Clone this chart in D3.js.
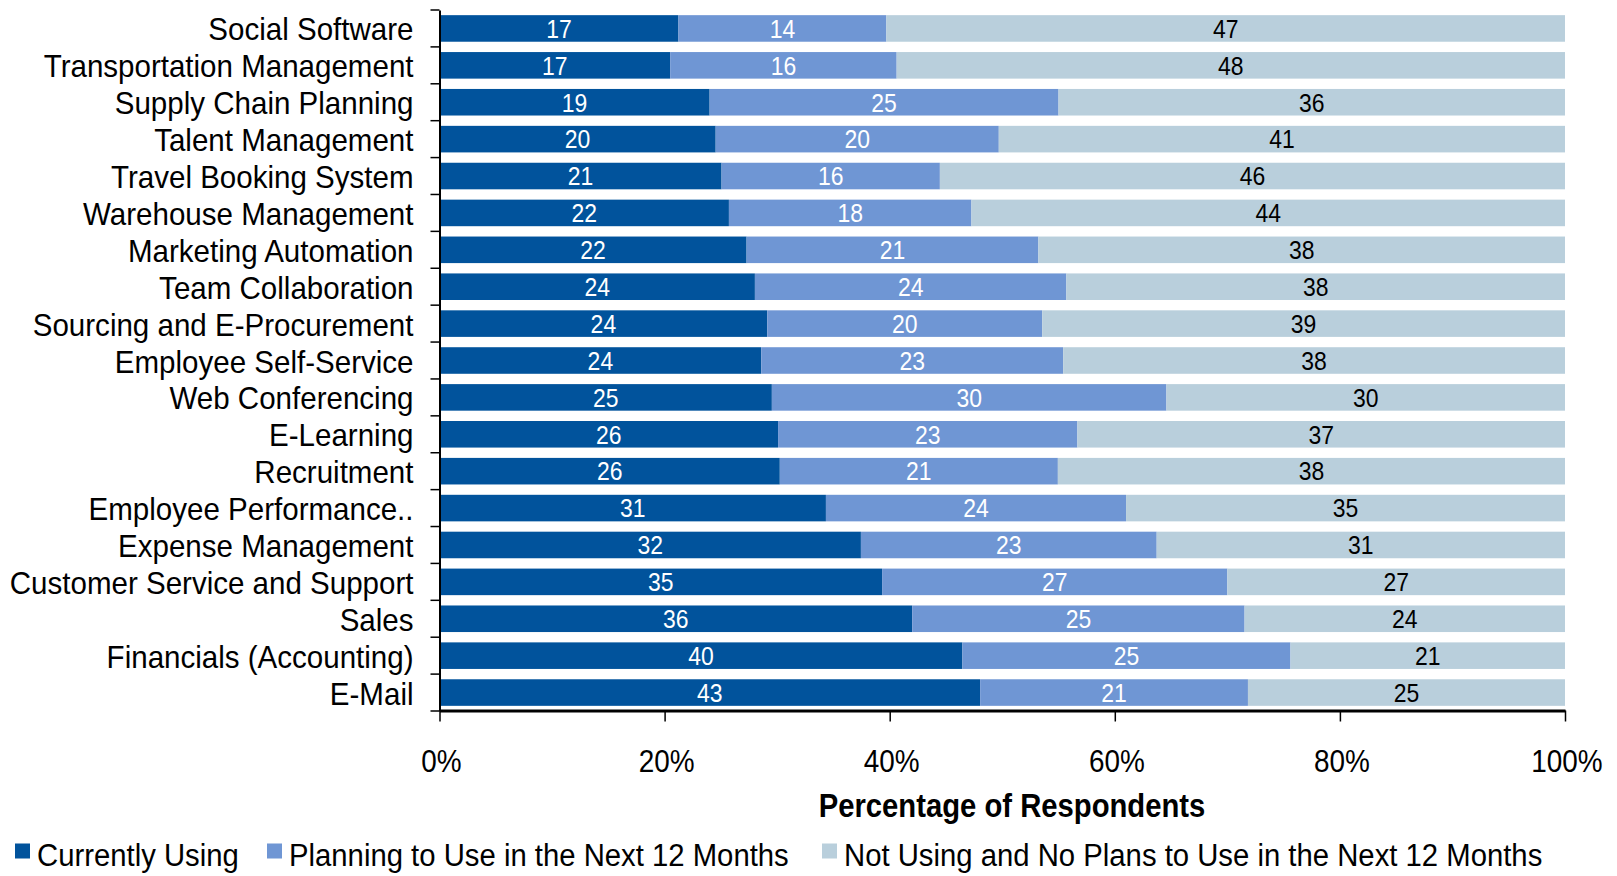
<!DOCTYPE html>
<html><head><meta charset="utf-8">
<script src="https://cdn.jsdelivr.net/npm/d3@7"></script>
<style>
body{margin:0;background:#fff;}
svg{display:block;font-family:"Liberation Sans",Arial,sans-serif;}
</style>
</head><body>
<svg id="chart" width="1617" height="876"></svg>
<script>
const categories = ["Social Software","Transportation Management","Supply Chain Planning","Talent Management","Travel Booking System","Warehouse Management","Marketing Automation","Team Collaboration","Sourcing and E-Procurement","Employee Self-Service","Web Conferencing","E-Learning","Recruitment","Employee Performance..","Expense Management","Customer Service and Support","Sales","Financials (Accounting)","E-Mail"];
const currentlyUsing = [16.55,16.6,19.2,19.9,20.8,21.6,22.1,24.1,24.2,24.3,25.1,25.9,25.7,30.9,32.2,35.0,35.7,40.0,42.8];
const planningToUse = [14.4,16.3,24.8,20.4,16.1,18.1,21.0,23.8,20.3,22.8,29.8,22.9,21.0,24.0,22.6,27.3,25.1,25.1,21.2];
const notUsing = [47.0,48.1,36.0,40.8,46.1,44.3,37.9,38.1,38.6,37.9,30.1,37.3,38.3,35.1,31.2,26.7,24.2,21.0,25.1];
const seriesNames = ["Currently Using","Planning to Use in the Next 12 Months","Not Using and No Plans to Use in the Next 12 Months"];
const seriesColors = ["#01539c","#6f96d4","#b9cfdc"];
const labelColors = ["#ffffff","#ffffff","#000000"];
const xTickValues = [0,0.2,0.4,0.6,0.8,1];
const xTitle = "Percentage of Respondents";

const keys = ["a","b","c"];
const rows = categories.map((c,i)=>({cat:c,a:currentlyUsing[i],b:planningToUse[i],c:notUsing[i]}));
const stacked = d3.stack().keys(keys).offset(d3.stackOffsetExpand)(rows);

const svg = d3.select("#chart");
const SX = 0.9;
const x = d3.scaleLinear().domain([0,1]).range([439.5,1565]);
const y = d3.scaleBand().domain(categories).range([10,711]).paddingInner(0.28).paddingOuter(0.14);

// bars
const g = svg.append("g");
stacked.forEach((s,si)=>{
  g.selectAll(null).data(s).enter().append("rect")
    .attr("x",d=>x(d[0])).attr("y",d=>y(d.data.cat))
    .attr("width",d=>x(d[1])-x(d[0])).attr("height",y.bandwidth())
    .attr("fill",seriesColors[si]);
  g.selectAll(null).data(s).enter().append("text")
    .attr("transform",d=>`translate(${(x(d[0])+x(d[1]))/2},${y(d.data.cat)+y.bandwidth()/2+9.3}) scale(${SX},1)`)
    .attr("text-anchor","middle").attr("font-size",25.5).attr("fill",labelColors[si])
    .text(d=>Math.round(d.data[keys[si]]));
});

// y axis
const yAxis = svg.append("g").attr("transform",`translate(${x(0)},0)`)
  .call(d3.axisLeft(y).tickSize(0).tickPadding(0));
yAxis.select(".domain").attr("stroke","#000").attr("stroke-width",2);
yAxis.selectAll(".tick text").attr("x",null).attr("dy",null)
  .attr("transform",`translate(-26,12) scale(0.923,1)`)
  .attr("font-size",32).attr("font-family","Liberation Sans, Arial, sans-serif").attr("fill","#000")
  .attr("text-anchor","end");
const boundaries = categories.map(c=>y(c)-y.step()*y.paddingInner()/2).concat([y.range()[1]]);
boundaries[0] = y.range()[0];
yAxis.selectAll(".bt").data(boundaries).enter().append("line")
  .attr("x1",-9).attr("x2",0).attr("y1",d=>d).attr("y2",d=>d)
  .attr("stroke","#000").attr("stroke-width",1.5);

// x axis
const xAxis = svg.append("g").attr("transform",`translate(0,710.5)`)
  .call(d3.axisBottom(x).tickValues(xTickValues).tickSize(11).tickSizeOuter(0).tickFormat(""));
xAxis.select(".domain").attr("stroke","#000").attr("stroke-width",3);
xAxis.selectAll(".tick line").attr("stroke","#000").attr("stroke-width",1.5);
const fmt = d3.format(".0%");
svg.append("g").selectAll("text").data(xTickValues).enter().append("text")
  .attr("transform",d=>`translate(${x(d)+2},771.5) scale(${SX},1)`)
  .attr("text-anchor","middle").attr("font-size",31).attr("fill","#000")
  .text(d=>fmt(d));

svg.append("text").attr("transform",`translate(1012,816.5) scale(${SX},1)`)
  .attr("text-anchor","middle").attr("font-size",32.5).attr("font-weight","bold").attr("fill","#000")
  .text(xTitle);

// legend
const legendX = [15,267,822];
const leg = svg.append("g");
seriesNames.forEach((n,i)=>{
  leg.append("rect").attr("x",legendX[i]).attr("y",843.5).attr("width",15).attr("height",15).attr("fill",seriesColors[i]);
  leg.append("text").attr("transform",`translate(${legendX[i]+22},866) scale(0.93,1)`)
    .attr("font-size",31.5).attr("fill","#000").text(n);
});
</script>
</body></html>
